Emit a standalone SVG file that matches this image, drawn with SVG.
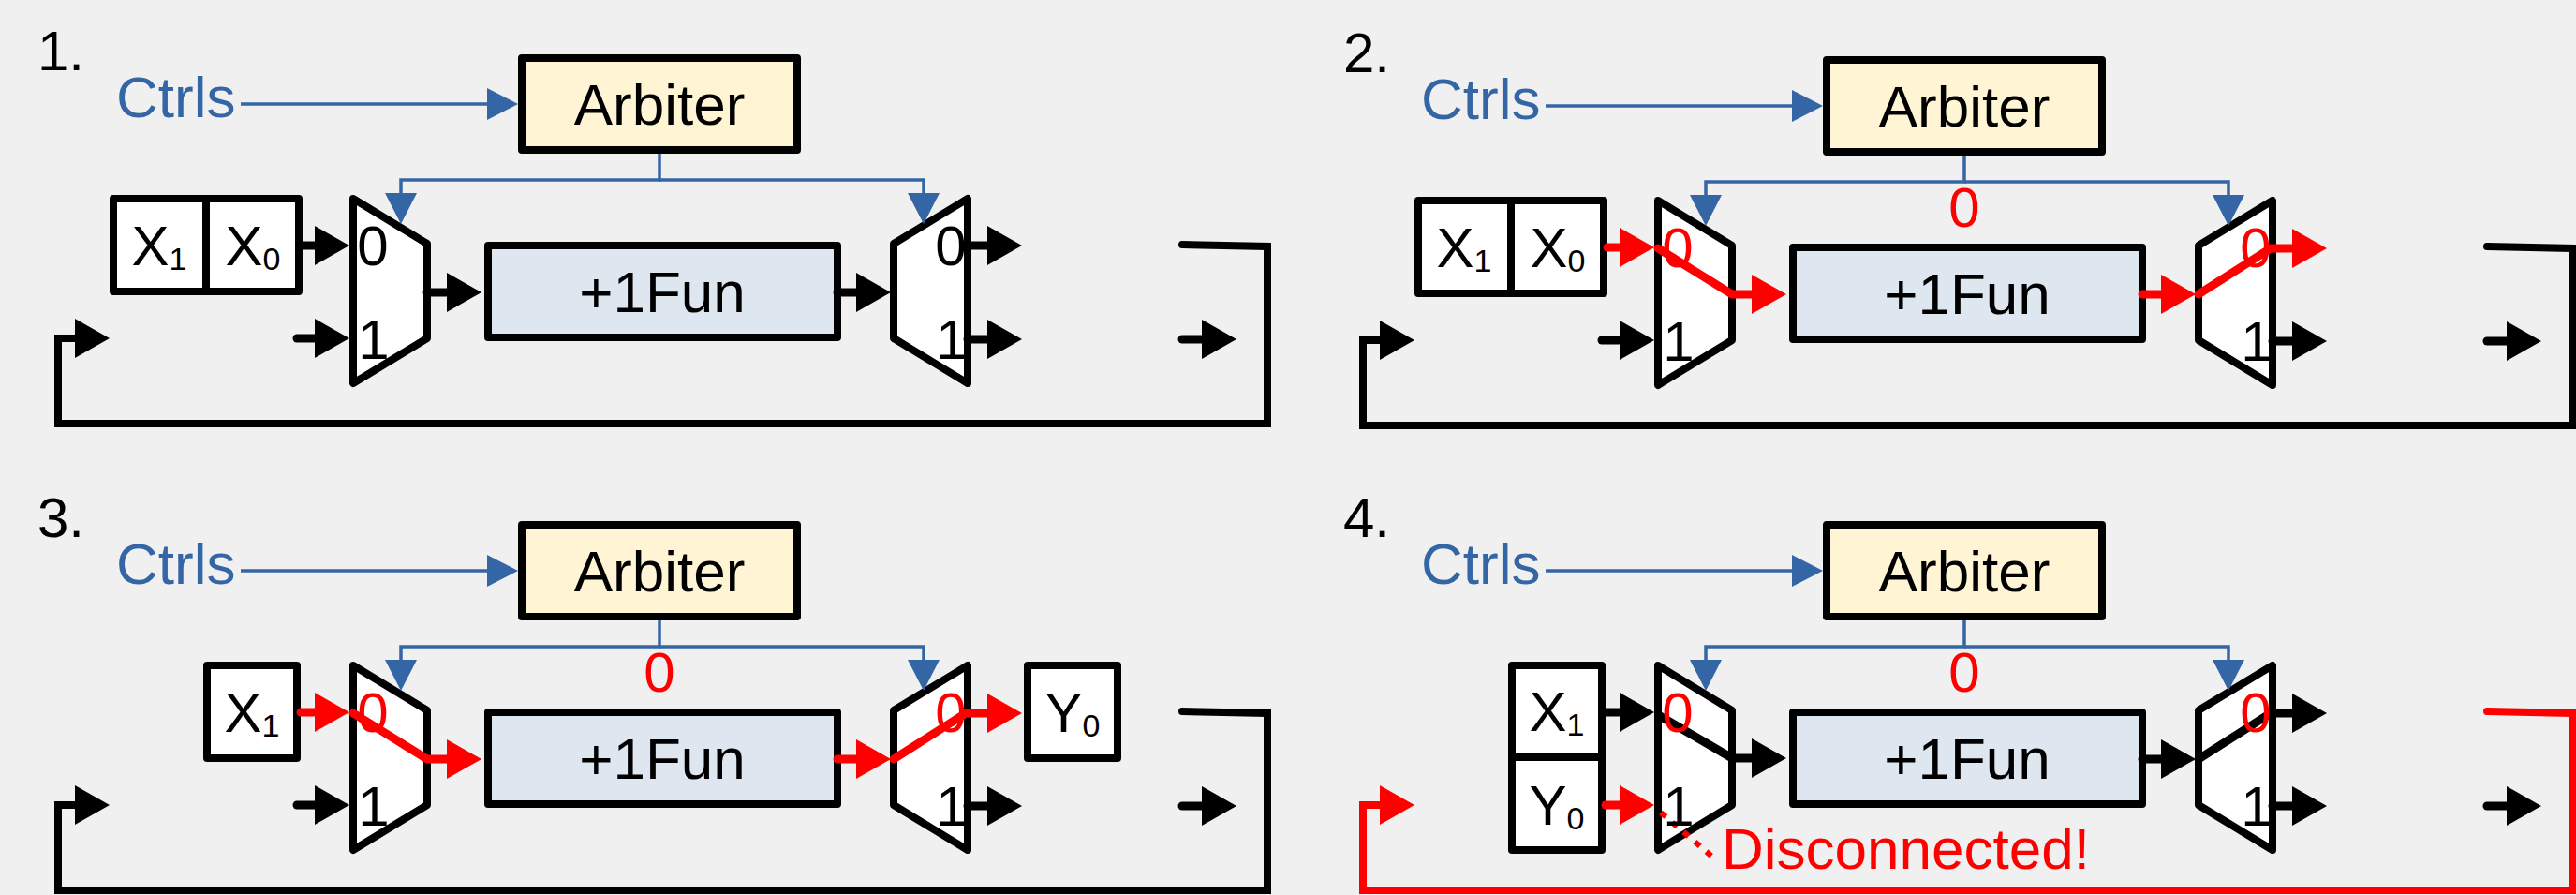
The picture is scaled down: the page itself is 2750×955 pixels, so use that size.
<svg xmlns="http://www.w3.org/2000/svg" width="2750" height="955" viewBox="0 0 2750 955">
<style>
.bg{fill:#F0F0F0}
text{font-family:"Liberation Sans",Arial,sans-serif}
.num{font-size:60px;fill:#000}
.ctl{font-size:62px;fill:#3465A4}
.lbl{font-size:62px;fill:#000;text-anchor:middle}
.x{font-size:60px;fill:#000;text-anchor:middle}
.sub{font-size:34px}
.port{font-size:60px;fill:#000;text-anchor:middle}
.port.red{fill:#FF0000}
.zero{font-size:60px;fill:#FF0000;text-anchor:middle}
.dis{font-size:62px;fill:#FF0000}
.arb{fill:#FFF4D3;stroke:#000;stroke-width:8;stroke-linejoin:round}
.fun{fill:#DEE6EF;stroke:#000;stroke-width:8;stroke-linejoin:round}
.box{fill:#FFFFFF;stroke:#000;stroke-width:8;stroke-linejoin:round}
.div{stroke:#000;stroke-width:8}
.mux{fill:#FFFFFF;stroke:#000;stroke-width:8;stroke-linejoin:round}
.b{fill:none;stroke:#3465A4;stroke-width:3.5;marker-end:url(#mb)}
.k{fill:none;stroke:#000;stroke-width:9;stroke-linecap:round;marker-end:url(#mk)}
.r{fill:none;stroke:#FF0000;stroke-width:9;stroke-linecap:round;marker-end:url(#mr)}
.kf{fill:none;stroke:#000;stroke-width:8;stroke-linecap:round;marker-end:url(#mk)}
.rf{fill:none;stroke:#FF0000;stroke-width:8;stroke-linecap:round;marker-end:url(#mr)}
.dot{fill:none;stroke:#FF0000;stroke-width:6;stroke-dasharray:7 9}
</style>
<defs>
<marker id="mk" markerUnits="userSpaceOnUse" viewBox="0 0 38 42" markerWidth="38" markerHeight="42" refX="1" refY="21" orient="auto"><path d="M0,0 L37,21 L0,42 z" fill="#000"/></marker>
<marker id="mr" markerUnits="userSpaceOnUse" viewBox="0 0 38 42" markerWidth="38" markerHeight="42" refX="1" refY="21" orient="auto"><path d="M0,0 L37,21 L0,42 z" fill="#FF0000"/></marker>
<marker id="mb" markerUnits="userSpaceOnUse" viewBox="0 0 34 34" markerWidth="34" markerHeight="34" refX="1" refY="17" orient="auto"><path d="M0,0 L33,17 L0,34 z" fill="#3465A4"/></marker>
</defs>
<rect class="bg" x="0" y="0" width="2750" height="955"/>

<!-- Panel 1 -->
<g id="p1">
 <text class="num" x="40" y="75">1.</text>
 <g id="p1-ctrls"><text class="ctl" x="124" y="125">Ctrls</text></g>
 <g id="p1-arbiter"><rect class="arb" x="557" y="62" width="294" height="98"/><text class="lbl" x="704" y="133">Arbiter</text></g>
 <g id="p1-input"><rect class="box" x="121" y="212" width="198" height="99"/><line class="div" x1="220" y1="212" x2="220" y2="311"/><text class="x" x="170" y="283">X<tspan class="sub" dy="5">1</tspan></text><text class="x" x="270" y="283">X<tspan class="sub" dy="5">0</tspan></text></g>
 <g id="p1-mux-in"><polygon class="mux" points="377,212 456,260 456,361 377,409"/></g>
 <g id="p1-fun"><rect class="fun" x="521" y="262" width="373" height="98"/><text class="lbl" x="707" y="333">+1Fun</text></g>
 <g id="p1-mux-out"><polygon class="mux" points="954,260 1033,212 1033,409 954,361"/></g>
 <g id="p1-connectors">
  <path class="b" d="M257,111 H521"/>
  <path class="b" d="M704,164 V192 H428 V207"/>
  <path class="b" d="M704,192 H986 V207"/>
  <path class="k" d="M323,262 H337"/>
  <path class="k" d="M317,361 H337"/>
  <path class="k" d="M456,312 H478"/>
  <path class="k" d="M894,312 H915"/>
  <path class="k" d="M1033,262 H1055"/>
  <path class="k" d="M1033,362 H1055"/>
  <path class="kf" d="M1262,261 L1353,263 V452 H62 V361 H81"/>
  <path class="k" d="M1262,362 H1284"/>
 </g>
 <g id="p1-ports">
  <text class="port" x="398" y="283">0</text><text class="port" x="399" y="383">1</text>
  <text class="port" x="1015" y="283">0</text><text class="port" x="1016" y="383">1</text>
 </g>
</g>

<!-- Panel 2 -->
<g id="p2" transform="translate(1393,2)">
 <text class="num" x="41" y="75">2.</text>
 <g id="p2-ctrls"><text class="ctl" x="124" y="125">Ctrls</text></g>
 <g id="p2-arbiter"><rect class="arb" x="557" y="62" width="294" height="98"/><text class="lbl" x="704" y="133">Arbiter</text></g>
 <g id="p2-sel"><text class="zero" x="704" y="240">0</text></g>
 <g id="p2-input"><rect class="box" x="121" y="212" width="198" height="99"/><line class="div" x1="220" y1="212" x2="220" y2="311"/><text class="x" x="170" y="283">X<tspan class="sub" dy="5">1</tspan></text><text class="x" x="270" y="283">X<tspan class="sub" dy="5">0</tspan></text></g>
 <g id="p2-mux-in"><polygon class="mux" points="377,212 456,260 456,361 377,409"/></g>
 <g id="p2-fun"><rect class="fun" x="521" y="262" width="373" height="98"/><text class="lbl" x="707" y="333">+1Fun</text></g>
 <g id="p2-mux-out"><polygon class="mux" points="954,260 1033,212 1033,409 954,361"/></g>
 <g id="p2-connectors">
  <path class="b" d="M257,111 H521"/>
  <path class="b" d="M704,164 V192 H428 V207"/>
  <path class="b" d="M704,192 H986 V207"/>
  <path class="r" d="M323,262 H337"/>
  <path class="k" d="M317,361 H337"/>
  <path class="r" d="M377,263 L456,312 H478"/>
  <path class="r" d="M894,312 H915"/>
  <path class="r" d="M954,312 L1031,263 H1055"/>
  <path class="k" d="M1033,362 H1055"/>
  <path class="kf" d="M1262,261 L1353,263 V452 H62 V361 H81"/>
  <path class="k" d="M1262,362 H1284"/>
 </g>
 <g id="p2-ports">
  <text class="port red" x="398" y="283">0</text><text class="port" x="399" y="383">1</text>
  <text class="port red" x="1015" y="283">0</text><text class="port" x="1016" y="383">1</text>
 </g>
</g>

<!-- Panel 3 -->
<g id="p3" transform="translate(0,498)">
 <text class="num" x="40" y="75">3.</text>
 <g id="p3-ctrls"><text class="ctl" x="124" y="125">Ctrls</text></g>
 <g id="p3-arbiter"><rect class="arb" x="557" y="62" width="294" height="98"/><text class="lbl" x="704" y="133">Arbiter</text></g>
 <g id="p3-sel"><text class="zero" x="704" y="240">0</text></g>
 <g id="p3-input"><rect class="box" x="221" y="212" width="96" height="99"/><text class="x" x="269" y="283">X<tspan class="sub" dy="5">1</tspan></text></g>
 <g id="p3-mux-in"><polygon class="mux" points="377,212 456,260 456,361 377,409"/></g>
 <g id="p3-fun"><rect class="fun" x="521" y="262" width="373" height="98"/><text class="lbl" x="707" y="333">+1Fun</text></g>
 <g id="p3-mux-out"><polygon class="mux" points="954,260 1033,212 1033,409 954,361"/></g>
 <g id="p3-output"><rect class="box" x="1097" y="212" width="96" height="99"/><text class="x" x="1145" y="283">Y<tspan class="sub" dy="5">0</tspan></text></g>
 <g id="p3-connectors">
  <path class="b" d="M257,111 H521"/>
  <path class="b" d="M704,164 V192 H428 V207"/>
  <path class="b" d="M704,192 H986 V207"/>
  <path class="r" d="M321,262 H337"/>
  <path class="k" d="M317,361 H337"/>
  <path class="r" d="M377,263 L456,312 H478"/>
  <path class="r" d="M894,312 H915"/>
  <path class="r" d="M954,312 L1031,263 H1055"/>
  <path class="k" d="M1033,362 H1055"/>
  <path class="kf" d="M1262,261 L1353,263 V452 H62 V361 H81"/>
  <path class="k" d="M1262,362 H1284"/>
 </g>
 <g id="p3-ports">
  <text class="port red" x="398" y="283">0</text><text class="port" x="399" y="383">1</text>
  <text class="port red" x="1015" y="283">0</text><text class="port" x="1016" y="383">1</text>
 </g>
</g>

<!-- Panel 4 -->
<g id="p4" transform="translate(1393,498)">
 <text class="num" x="41" y="75">4.</text>
 <g id="p4-ctrls"><text class="ctl" x="124" y="125">Ctrls</text></g>
 <g id="p4-arbiter"><rect class="arb" x="557" y="62" width="294" height="98"/><text class="lbl" x="704" y="133">Arbiter</text></g>
 <g id="p4-sel"><text class="zero" x="704" y="240">0</text></g>
 <g id="p4-input"><rect class="box" x="221" y="212" width="96" height="197"/><line class="div" x1="221" y1="310" x2="317" y2="310"/><text class="x" x="269" y="282">X<tspan class="sub" dy="5">1</tspan></text><text class="x" x="269" y="382">Y<tspan class="sub" dy="5">0</tspan></text></g>
 <g id="p4-mux-in"><polygon class="mux" points="377,212 456,260 456,361 377,409"/></g>
 <g id="p4-fun"><rect class="fun" x="521" y="262" width="373" height="98"/><text class="lbl" x="707" y="333">+1Fun</text></g>
 <g id="p4-mux-out"><polygon class="mux" points="954,260 1033,212 1033,409 954,361"/></g>
 <g id="p4-note"><text class="dis" x="445" y="429">Disconnected!</text></g>
 <g id="p4-connectors">
  <path class="b" d="M257,111 H521"/>
  <path class="b" d="M704,164 V192 H428 V207"/>
  <path class="b" d="M704,192 H986 V207"/>
  <path class="k" d="M321,262 H337"/>
  <path class="r" d="M321,361 H337"/>
  <path class="k" d="M379,266 L456,311 H478"/>
  <path class="k" d="M894,312 H915"/>
  <path class="k" d="M954,312 L1031,263 H1055"/>
  <path class="k" d="M1033,362 H1055"/>
  <path class="rf" d="M1262,261 L1353,263 V452 H62 V361 H81"/>
  <path class="k" d="M1262,362 H1284"/>
  <path class="dot" d="M380,369 L436,417"/>
 </g>
 <g id="p4-ports">
  <text class="port red" x="398" y="283">0</text><text class="port" x="399" y="383">1</text>
  <text class="port red" x="1015" y="283">0</text><text class="port" x="1016" y="383">1</text>
 </g>
</g>
</svg>
